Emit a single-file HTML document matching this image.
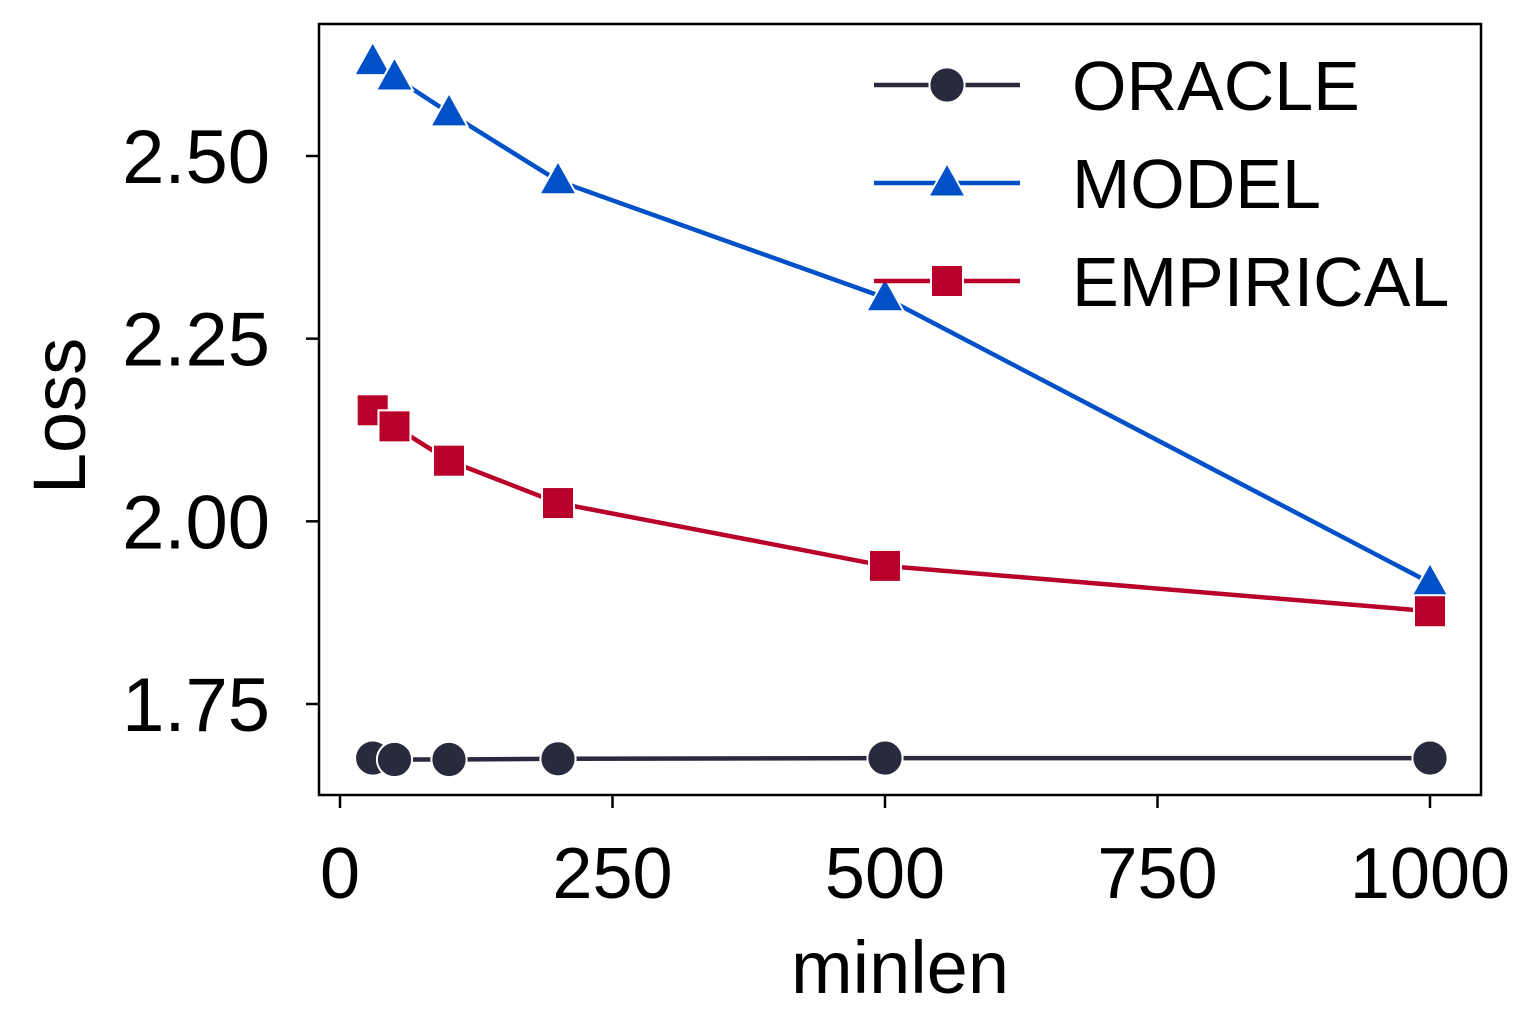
<!DOCTYPE html>
<html><head><meta charset="utf-8"><style>
body{margin:0;background:#fff;}
svg{display:block;font-family:"Liberation Sans",Arial,sans-serif;}
</style></head><body>
<svg id="chart" width="1538" height="1034">
<rect x="319" y="24" width="1162" height="771" fill="none" stroke="#000" stroke-width="2.5"/>
<g id="axes"></g>
<g id="series"></g>
<text x="900" y="993" font-size="74" text-anchor="middle">minlen</text>
<text transform="translate(85,416) rotate(-90)" font-size="74" text-anchor="middle">Loss</text>
<g id="legend"></g>
</svg>
<script>
const xValues=[30,50,100,200,500,1000];
const oracle=[1.676,1.674,1.674,1.675,1.676,1.676];
const model=[2.629,2.608,2.559,2.466,2.306,1.916];
const empirical=[2.152,2.130,2.083,2.025,1.939,1.877];
const xTicks=[0,250,500,750,1000];
const yTicks=[1.75,2.00,2.25,2.50];
const yTickLabels=["1.75","2.00","2.25","2.50"];
const seriesNames=["ORACLE","MODEL","EMPIRICAL"];

const NS="http://www.w3.org/2000/svg";
const xs=v=>340+v*1.09;
const ys=v=>156+(2.5-v)*730.67;
function mk(tag,attrs,parent){const e=document.createElementNS(NS,tag);for(const k in attrs)e.setAttribute(k,attrs[k]);parent.appendChild(e);return e;}
const axes=document.getElementById('axes');
xTicks.forEach(t=>{
  const l=mk('line',{x1:xs(t),x2:xs(t),y1:795,y2:808,stroke:'#000','stroke-width':2.5},axes);
  
  
  const tx=mk('text',{x:xs(t),y:898,'font-size':72,'text-anchor':'middle'},axes);
  tx.textContent=t;
  
  
});
yTicks.forEach((t,i)=>{
  const l=mk('line',{x1:306,x2:319,y1:ys(t),y2:ys(t),stroke:'#000','stroke-width':2.5},axes);
  
  
  const tx=mk('text',{x:270,y:ys(t)+27,'font-size':76,'text-anchor':'end'},axes);
  tx.textContent=yTickLabels[i];
  
  
});
const colors=['#2a2a3e','#0050c8','#b8002a'];
const markers=['circle','triangle','square'];
function marker(type,x,y,c,parent,s){
  let e;
  if(type==='circle') e=mk('circle',{cx:x,cy:y,r:s*0.55,fill:c,stroke:'#fff','stroke-width':2},parent);
  else if(type==='square') e=mk('rect',{x:x-s*0.5,y:y-s*0.5,width:s,height:s,fill:c,stroke:'#fff','stroke-width':2},parent);
  else e=mk('polygon',{points:`${x},${y-s*0.62} ${x-s*0.58},${y+s*0.42} ${x+s*0.58},${y+s*0.42}`,fill:c,stroke:'#fff','stroke-width':2},parent);
  return e;
}
const sg=document.getElementById('series');
[oracle,model,empirical].forEach((vals,si)=>{
  const g=mk('g',{},sg);
  
  
  const p=mk('polyline',{points:vals.map((v,i)=>xs(xValues[i])+','+ys(v)).join(' '),fill:'none',stroke:colors[si],'stroke-width':4.5},g);
  
  
  vals.forEach((v,i)=>{
    const m=marker(markers[si],xs(xValues[i]),ys(v),colors[si],g,32);
    
    
  });
});
const lg=document.getElementById('legend');
seriesNames.forEach((n,i)=>{
  const y=85+i*98;
  const g=mk('g',{},lg);
  
  
  mk('line',{x1:874,x2:1020,y1:y,y2:y,stroke:colors[i],'stroke-width':4.5},g);
  marker(markers[i],947,y,colors[i],g,32);
  const t=mk('text',{x:1072,y:y+25,'font-size':70},g);
  t.textContent=n;
});
</script>
</body></html>
